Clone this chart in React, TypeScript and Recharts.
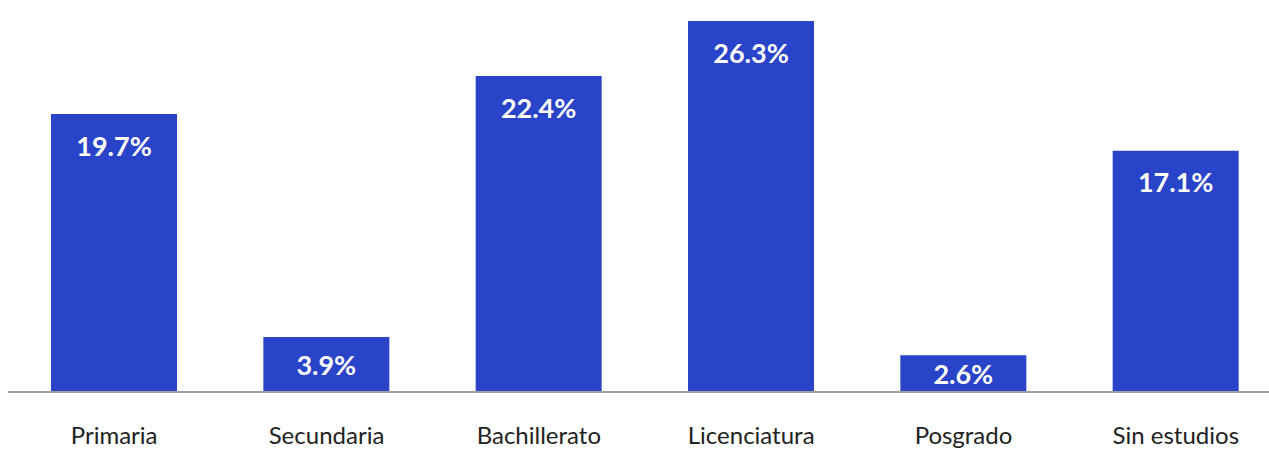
import React from "react";
import { BarChart, Bar, XAxis, YAxis, LabelList } from "recharts";

const categories = ["Primaria", "Secundaria", "Bachillerato", "Licenciatura", "Posgrado", "Sin estudios"];
const values = [19.7, 3.9, 22.4, 26.3, 2.6, 17.1];

const data = categories.map((c, i) => ({ name: c, value: values[i] }));

const FONT = "Lato, 'Open Sans', sans-serif";

const Tick = (props: any) => {
  const { x, y, payload } = props;
  return (
    <text x={x} y={y + 34} textAnchor="middle" dominantBaseline="central" fill="#222" fontSize={24} fontFamily={FONT}>
      {payload.value}
    </text>
  );
};

const Label = (props: any) => {
  const { x, y, width, height, value } = props;
  const off = Math.min(31, height / 2);
  return (
    <text x={x + width / 2} y={y + off} textAnchor="middle" dominantBaseline="central" fill="#fff" fontSize={27} fontWeight={700} fontFamily={FONT}>
      {`${Number(value).toFixed(1)}%`}
    </text>
  );
};

export default function App() {
  return (
    <div style={{ position: "absolute", left: 0, top: 0, width: 1269, height: 456, overflow: "hidden", background: "#fff" }}>
      <BarChart width={1290} height={456} data={data} margin={{ top: 21, right: 8, bottom: 4, left: 8 }}>
        <XAxis dataKey="name" height={60} axisLine={{ stroke: "#a0a0a0", strokeWidth: 2 }} tickLine={false} tick={<Tick />} interval={0} />
        <YAxis hide domain={[0, 26.3]} />
        <Bar dataKey="value" fill="#2944C8" barSize={126} isAnimationActive={false}>
          <LabelList dataKey="value" content={<Label />} />
        </Bar>
      </BarChart>
    </div>
  );
}
